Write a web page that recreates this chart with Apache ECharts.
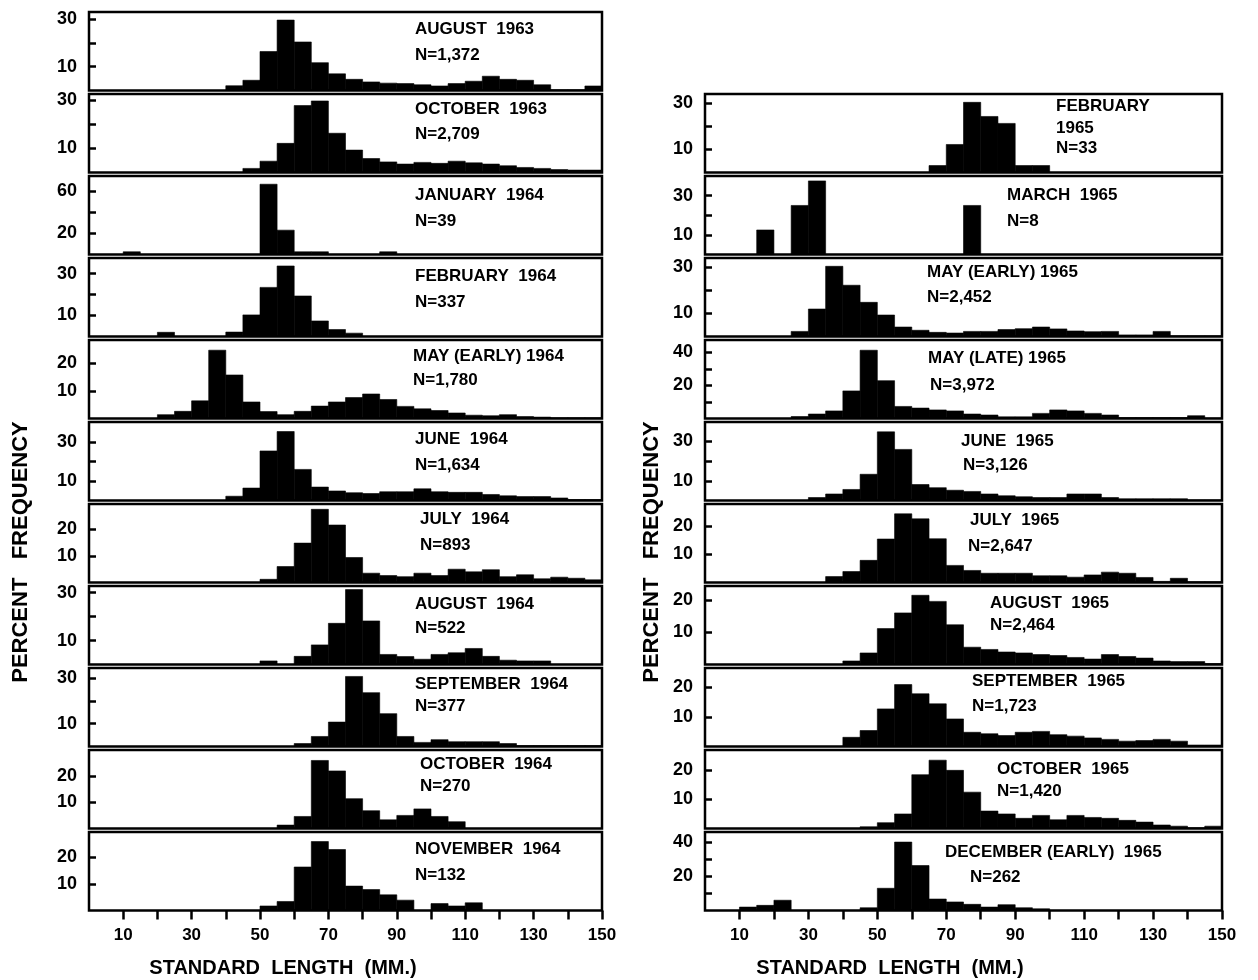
<!DOCTYPE html>
<html>
<head>
<meta charset="utf-8">
<script src="https://cdn.jsdelivr.net/npm/echarts@6/dist/echarts.min.js"></script>
<style>
html,body{margin:0;padding:0;background:#fff}
#c{width:1258px;height:980px}
</style>
</head>
<body>
<div id="c"></div>
<script>
// ---------- DATA ----------
// length bins (mm): edges of the 5-mm classes
const binEdges = [0,5,10,15,20,25,30,35,40,45,50,55,60,65,70,75,80,85,90,95,100,105,110,115,120,125,130,135,140,145,150];
const xTickValues = [10,20,30,40,50,60,70,80,90,100,110,120,130,140,150];
const xLabelValues = [10,30,50,70,90,110,130,150];

// percent frequency per 5-mm class (30 classes)
const aug63 = [0,0,0,0,0,0,0,0,2,4.3,16.4,29.6,20.4,11.7,7,4.7,3.6,3.1,2.9,2.4,1.9,2.9,3.9,6,4.7,4.3,2.4,0.3,0.3,1.9];
const oct63 = [0,0,0,0,0,0,0,0,0,1.7,4.7,12.1,27.8,29.7,16.3,9.3,5.8,4.4,3.5,4.2,3.8,4.7,4,3.5,2.8,2.1,1.7,1.2,1,1];
const jan64 = [0,0,2.56,0,0,0,0,0,0,0,66.7,23.1,2.56,2.56,0,0,0,2.56,0,0,0,0,0,0,0,0,0,0,0,0];
const feb64 = [0,0,0,0,2,0,0,0,2.1,10.3,23.4,33.6,19.3,7.4,3.3,1.6,0,0,0,0,0,0,0,0,0,0,0,0,0,0];
const may64 = [0,0,0,0,1.4,2.6,6.4,24.8,15.8,6,2.5,1.4,2.6,4.5,6,7.6,8.9,6.9,4.4,3.5,2.9,2,1.2,1,1.4,0.7,0.5,0.3,0.3,0.3];
const jun64 = [0,0,0,0,0,0,0,0,2.2,6.4,25.5,35.5,16,6.9,4.9,4,3.6,4.5,4.5,6,4.5,4.2,4.2,3.1,2.4,2,2,1.3,0.5,0.5];
const jul64 = [0,0,0,0,0,0,0,0,0,0,1.2,6,14.8,27.5,21.6,9.4,3.5,2.6,2.2,3.5,2.6,5,4,4.8,2.2,2.9,1.4,2,1.6,1];
const aug64 = [0,0,0,0,0,0,0,0,0,0,1.5,0,3.4,8.2,17.2,31.3,18.2,4.2,3.3,2.2,4.2,4.9,6.7,3.4,1.8,1.5,1.5,0,0,0];
const sep64 = [0,0,0,0,0,0,0,0,0,0,0,0,1.3,4.4,10.7,30.7,23.6,14.4,4.4,1.8,3,2.1,2.1,2.1,1.3,0.4,0.4,0.4,0.4,0.4];
const oct64 = [0,0,0,0,0,0,0,0,0,0,0,1.3,4.6,26,22,11.4,6.8,3.3,5,7.5,4.6,2.6,0,0,0,0,0,0,0,0];
const nov64 = [0,0,0,0,0,0,0,0,0,0,1.7,3.4,16.4,26,23,9.2,7.9,5.9,3.9,0,2.6,1.7,2.9,0,0,0,0,0,0,0];
const feb65 = [0,0,0,0,0,0,0,0,0,0,0,0,0,3,12.1,30.3,24.2,21.2,3,3,0,0,0,0,0,0,0,0,0,0];
const mar65 = [0,0,0,12.5,0,25,37.5,0,0,0,0,0,0,0,0,25,0,0,0,0,0,0,0,0,0,0,0,0,0,0];
const mayE65 = [0,0,0,0,0,2.2,11.9,30.4,22.2,14.8,9.3,4.1,2.7,1.8,1.5,2.2,2.2,3,3.4,4.1,3.3,2.4,2.1,2.2,0.7,0.7,2.2,0.3,0.3,0.3];
const mayL65 = [0,0,0,0,0,1.2,2.7,4.6,16.7,41.3,22.9,7.3,6.3,5.2,4.6,2.7,2.1,1,1,3.1,5.2,4.6,3.1,2.1,0.6,0.6,0.6,0.6,1.7,0.3];
const jun65 = [0,0,0,0,0,0,1.5,3.3,5.6,13.3,34.8,25.9,8.1,6.5,5.2,4.6,3.3,2.4,1.9,1.5,1.5,3.3,3.3,1.5,0.9,0.9,0.9,0.9,0.3,0.3];
const jul65 = [0,0,0,0,0,0,0,2.1,3.9,7.9,15.5,24.5,22.7,15.6,6.1,4.3,3.3,3.3,3.3,2.4,2.4,1.9,2.7,3.7,3.3,1.8,0.4,1.5,0.3,0.3];
const aug65 = [0,0,0,0,0,0,0,0,1.1,3.6,11.2,16.1,21.6,19.7,12.4,5.4,4.7,3.9,3.6,3.1,2.8,2.2,1.7,3.1,2.5,2,1.1,0.9,0.9,0.3];
const sep65 = [0,0,0,0,0,0,0,0,3.1,5.4,12.7,20.9,17.8,14.4,9.3,4.8,4.3,3.7,4.8,5.1,4,3.5,2.9,2.4,1.8,2,2.4,1.8,0.5,0.5];
const oct65 = [0,0,0,0,0,0,0,0,0,0.6,2,5,18.5,23.5,20,12.5,6,5,3.5,4.5,3,4.5,3.8,3.5,2.8,2.2,1.2,0.8,0.3,0.8];
const dec65 = [0,0,2,3,6,0,0,0,0,1.6,13,40,26.3,6.7,5,3.6,2,3.4,1.6,1,0,0,0,0,0,0,0,0,0,0];

const leftSeries = [aug63, oct63, jan64, feb64, may64, jun64, jul64, aug64, sep64, oct64, nov64];
const rightSeries = [feb65, mar65, mayE65, mayL65, jun65, jul65, aug65, sep65, oct65, dec65];

const leftTitles = ['AUGUST  1963','OCTOBER  1963','JANUARY  1964','FEBRUARY  1964','MAY (EARLY) 1964','JUNE  1964','JULY  1964','AUGUST  1964','SEPTEMBER  1964','OCTOBER  1964','NOVEMBER  1964'];
const leftN = ['N=1,372','N=2,709','N=39','N=337','N=1,780','N=1,634','N=893','N=522','N=377','N=270','N=132'];
const rightTitles = ['FEBRUARY\n1965','MARCH  1965','MAY (EARLY) 1965','MAY (LATE) 1965','JUNE  1965','JULY  1965','AUGUST  1965','SEPTEMBER  1965','OCTOBER  1965','DECEMBER (EARLY)  1965'];
const rightN = ['N=33','N=8','N=2,452','N=3,972','N=3,126','N=2,647','N=2,464','N=1,723','N=1,420','N=262'];

// y-axis ranges and tick sets
const leftYMax = [33, 32.6, 74.5, 37.4, 28.5, 40.4, 29.5, 32.8, 34.4, 30, 29.6];
const rightYMax = [33.9, 40, 34, 47.5, 39.8, 28, 24.5, 26.5, 27, 45.9];
const tickSets = {
  t30: {ticks:[10,20,30], labels:[10,30]},
  t20: {ticks:[10,20], labels:[10,20]},
  t60: {ticks:[20,40,60], labels:[20,60]},
  t40: {ticks:[10,20,30,40], labels:[20,40]}
};
const leftTickType = ['t30','t30','t60','t30','t20','t30','t20','t30','t30','t20','t20'];
const rightTickType = ['t30','t30','t30','t40','t30','t20','t20','t20','t20','t40'];

// ---------- LAYOUT ----------
const colL = {x0: 89, x1: 602};
const colR = {x0: 705, x1: 1222};
const top0 = 12, pitch = 82, ph = 78.5;
const leftTextX = [415,415,415,415,413,415,420,415,415,420,415];
const leftTitleY = [28,108,194,275,355,438,518,603,683,763,848];
const leftNY = [55,134,221,302,380,465,545,628,706,786,875];
const rightTextX = [1056,1007,927,928,961,970,990,972,997,945];
const rightNX = [1056,1007,927,930,963,968,990,972,997,970];
const rightTitleY = [105,194,271,357,440,519,602,680,768,851];
const rightNY = [148,221,297,385,465,546,625,706,791,877];

const FONT = '"Liberation Sans", Arial, sans-serif';

const panels = [];
leftSeries.forEach((d, i) => panels.push({col: colL, row: i, data: d, ymax: leftYMax[i], tt: leftTickType[i],
  title: leftTitles[i], n: leftN[i], tx: leftTextX[i], nx: leftTextX[i], ty: leftTitleY[i], ny: leftNY[i]}));
rightSeries.forEach((d, i) => panels.push({col: colR, row: i + 1, data: d, ymax: rightYMax[i], tt: rightTickType[i],
  title: rightTitles[i], n: rightN[i], tx: rightTextX[i], nx: rightNX[i], ty: rightTitleY[i], ny: rightNY[i]}));

function renderBar(params, api) {
  const p0 = api.coord([api.value(0), api.value(2)]);
  const p1 = api.coord([api.value(1), 0]);
  return {type: 'rect', shape: {x: p0[0], y: p0[1], width: p1[0] - p0[0], height: p1[1] - p0[1]},
    style: {fill: '#000', stroke: '#000', lineWidth: 0.6}};
}

const grids = [], xAxes = [], yAxes = [], series = [], graphics = [];
panels.forEach((p, i) => {
  const top = top0 + p.row * pitch;
  grids.push({left: p.col.x0, width: p.col.x1 - p.col.x0, top: top, height: ph,
    show: true, borderColor: '#000', borderWidth: 2.5, backgroundColor: '#fff'});
  const isBottom = p.row === 10;
  xAxes.push({gridIndex: i, type: 'value', min: 0, max: 150,
    axisLine: {show: false}, splitLine: {show: false},
    axisTick: {show: isBottom, customValues: xTickValues, length: 9, lineStyle: {color: '#000', width: 2.5}},
    axisLabel: {show: isBottom, customValues: xLabelValues, margin: 16, color: '#000',
      fontFamily: FONT, fontWeight: 'bold', fontSize: 17}});
  const ts = tickSets[p.tt];
  yAxes.push({gridIndex: i, type: 'value', min: 0, max: p.ymax,
    axisLine: {show: false}, splitLine: {show: false},
    axisTick: {show: true, inside: true, customValues: ts.ticks, length: 7, lineStyle: {color: '#000', width: 2.5}},
    axisLabel: {customValues: ts.labels, margin: 12, color: '#000',
      fontFamily: FONT, fontWeight: 'bold', fontSize: 18}});
  const data = [];
  p.data.forEach((v, k) => { if (v > 0) data.push([binEdges[k], binEdges[k + 1], v]); });
  series.push({type: 'custom', xAxisIndex: i, yAxisIndex: i, data: data, renderItem: renderBar,
    clip: true, silent: true, animation: false, encode: {x: [0, 1], y: 2}});
  graphics.push({type: 'text', x: p.tx, y: p.ty - 10, style: {text: p.title, fill: '#000',
    font: 'bold 17px ' + FONT, textAlign: 'left', textVerticalAlign: 'top', lineHeight: 22}});
  graphics.push({type: 'text', x: p.nx, y: p.ny, style: {text: p.n, fill: '#000',
    font: 'bold 17px ' + FONT, textAlign: 'left', textVerticalAlign: 'middle'}});
});

// axis titles
const axisTitleX = 'STANDARD  LENGTH  (MM.)';
const axisTitleY = 'PERCENT   FREQUENCY';
graphics.push({type: 'text', x: 283, y: 968, style: {text: axisTitleX, fill: '#000',
  font: 'bold 20px ' + FONT, textAlign: 'center', textVerticalAlign: 'middle'}});
graphics.push({type: 'text', x: 890, y: 968, style: {text: axisTitleX, fill: '#000',
  font: 'bold 20px ' + FONT, textAlign: 'center', textVerticalAlign: 'middle'}});
graphics.push({type: 'text', x: 21, y: 552, rotation: Math.PI / 2, style: {text: axisTitleY, fill: '#000',
  font: 'bold 22px ' + FONT, textAlign: 'center', textVerticalAlign: 'middle'}});
graphics.push({type: 'text', x: 652, y: 552, rotation: Math.PI / 2, style: {text: axisTitleY, fill: '#000',
  font: 'bold 22px ' + FONT, textAlign: 'center', textVerticalAlign: 'middle'}});

const chart = echarts.init(document.getElementById('c'), null, {renderer: 'canvas'});
chart.setOption({
  animation: false,
  backgroundColor: '#fff',
  grid: grids,
  xAxis: xAxes,
  yAxis: yAxes,
  series: series,
  graphic: graphics
});
</script>
</body>
</html>
